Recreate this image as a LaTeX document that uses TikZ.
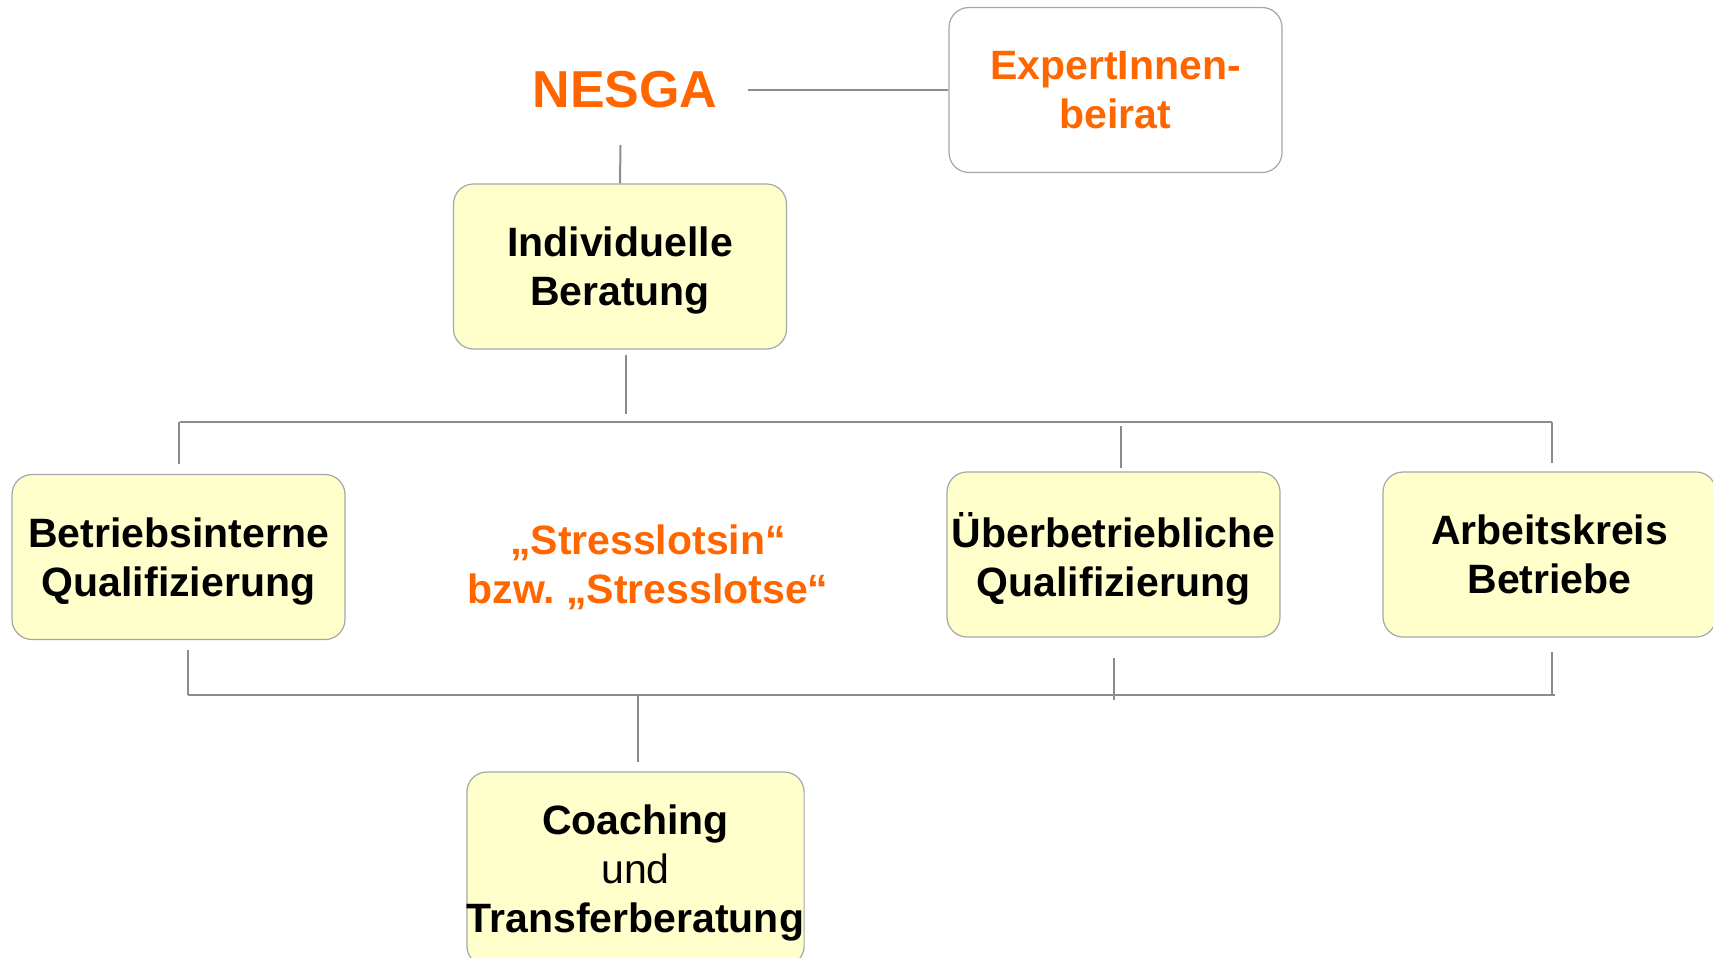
\documentclass[tikz,border=0pt]{standalone}
\usepackage{fontspec}
\setmainfont{Liberation Sans}
\definecolor{org}{HTML}{FF6600}
\definecolor{boxfill}{HTML}{FFFFCC}
\definecolor{boxline}{HTML}{A6A6A6}
\definecolor{connc}{HTML}{8C8C8C}
\begin{document}
\begin{tikzpicture}[x=1pt,y=-1pt,
  box/.style={draw=boxline, line width=1.2pt, fill=boxfill, rounded corners=20pt,
    minimum width=333pt, minimum height=165pt, align=center, inner sep=0pt,
    text depth=0pt, font=\fontsize{41}{49}\selectfont\bfseries},
  wbox/.style={box, fill=white, text=org},
  otext/.style={align=center, text=org, font=\fontsize{41}{49}\selectfont\bfseries},
  conn/.style={draw=connc, line width=2pt}]
\useasboundingbox (0,0) rectangle (1713,958);
\fill[white] (0,0) rectangle (1713,958);
% nodes
\node[otext, font=\fontsize{52}{60}\selectfont\bfseries] (nesga) at (625,90) {NESGA};
\node[wbox] (expert) at (1115.5,90) {ExpertInnen-\\beirat};
\node[box] (indiv) at (620,266.5) {Individuelle\\Beratung};
\node[box] (betr) at (178.5,557) {Betriebsinterne\\Qualifizierung};
\node[otext] (lotse) at (648,567) {„Stresslotsin“\\bzw.\ „Stresslotse“};
\node[box] (ueber) at (1113.5,554.5) {Überbetriebliche\\Qualifizierung};
\node[box] (arbeit) at (1549.5,554.5) {Arbeitskreis\\Betriebe};
\node[box, minimum height=194pt] (coach) at (635.5,869) {Coaching\\{\mdseries und}\\Transferberatung};
% coordinates
\coordinate (tl) at (180,421.7);
\coordinate (tr) at (1552,421.7);
\coordinate (bl) at (188,695);
\coordinate (br) at (1555,695);
% connectors
\draw[conn] (nesga.east -| 748,0) -- (expert.west);
\draw[conn] (620.5,145) -- (indiv.north);
\draw[conn] (626,355) -- (626,414);
\draw[conn] (tl) -- (tr);
\draw[conn] (179,421.7) -- (179,464);
\draw[conn] (1121,426) -- (1121,467.6);
\draw[conn] (1552,421.7) -- (1552,463);
\draw[conn] (bl) -- (br);
\draw[conn] (188,650) -- (bl);
\draw[conn] (1114,658) -- (1114,700);
\draw[conn] (1552,652) -- (1552,695);
\draw[conn] (638,695) -- (638,762);
\end{tikzpicture}
\end{document}
